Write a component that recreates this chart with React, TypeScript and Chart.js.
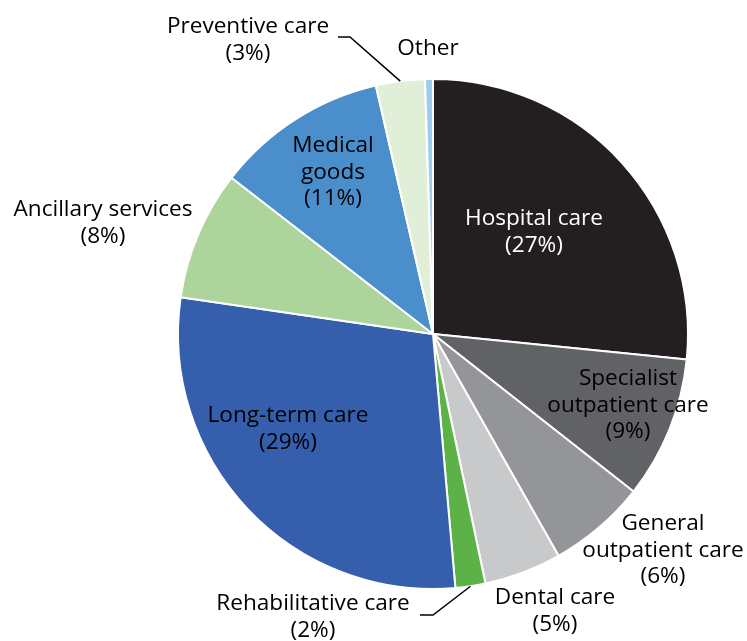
import React, { useEffect, useRef } from "react";
import { Chart, registerables } from "chart.js";

Chart.register(...registerables);

const categories = [
  "Hospital care",
  "Specialist outpatient care",
  "General outpatient care",
  "Dental care",
  "Rehabilitative care",
  "Long-term care",
  "Ancillary services",
  "Medical goods",
  "Preventive care",
  "Other",
];
const values = [26.6, 9.0, 6.2, 4.9, 1.9, 28.7, 8.2, 10.9, 3.1, 0.5];
const percentLabels = ["(27%)", "(9%)", "(6%)", "(5%)", "(2%)", "(29%)", "(8%)", "(11%)", "(3%)", ""];
const labelLines = [
  ["Hospital care"],
  ["Specialist", "outpatient care"],
  ["General", "outpatient care"],
  ["Dental care"],
  ["Rehabilitative care"],
  ["Long-term care"],
  ["Ancillary services"],
  ["Medical", "goods"],
  ["Preventive care"],
  ["Other"],
];
const colors = [
  "#231f20",
  "#616265",
  "#939598",
  "#c8c9cb",
  "#5cb247",
  "#355fac",
  "#acd49b",
  "#4a8ecc",
  "#e1efd9",
  "#9dcdee",
];

// label layout: x center, first baseline, text color, leader line (label-side points)
const labelLayout = [
  { x: 534, y: 225, color: "#ffffff" },
  { x: 628, y: 385, color: "#000000" },
  { x: 663, y: 530, color: "#000000" },
  { x: 555, y: 604, color: "#000000" },
  { x: 313, y: 610, color: "#000000", leader: [[420, 615], [433, 615]] },
  { x: 288, y: 422, color: "#000000" },
  { x: 103, y: 216, color: "#000000" },
  { x: 333, y: 152, color: "#000000" },
  { x: 248, y: 33, color: "#000000", leader: [[338, 37], [350, 37]] },
  { x: 428, y: 55, color: "#000000" },
];

const FONT = '22.6px "Open Sans", "Noto Sans", sans-serif';
const LINE_H = 26.5;

const labelPlugin = {
  id: "sliceLabels",
  afterDraw(chart: any) {
    const ctx = chart.ctx;
    const meta = chart.getDatasetMeta(0);
    ctx.save();
    ctx.font = FONT;
    ctx.textAlign = "center";
    ctx.textBaseline = "alphabetic";
    meta.data.forEach((arc: any, i: number) => {
      const lay = labelLayout[i];
      const lines = [...labelLines[i]];
      if (percentLabels[i]) lines.push(percentLabels[i]);
      ctx.fillStyle = lay.color;
      lines.forEach((t, k) => ctx.fillText(t, lay.x, lay.y + k * LINE_H));
      if (lay.leader) {
        const mid = (arc.startAngle + arc.endAngle) / 2;
        const r = arc.outerRadius;
        const px = arc.x + Math.cos(mid) * r;
        const py = arc.y + Math.sin(mid) * r;
        ctx.strokeStyle = "#000000";
        ctx.lineWidth = 1.5;
        ctx.beginPath();
        ctx.moveTo(lay.leader[0][0], lay.leader[0][1]);
        ctx.lineTo(lay.leader[1][0], lay.leader[1][1]);
        ctx.lineTo(px, py);
        ctx.stroke();
      }
    });
    ctx.restore();
  },
};

export default function App() {
  const ref = useRef<HTMLCanvasElement | null>(null);
  useEffect(() => {
    if (!ref.current) return;
    const chart = new Chart(ref.current, {
      type: "pie",
      data: {
        labels: categories,
        datasets: [
          {
            data: values,
            backgroundColor: colors,
            borderColor: "#ffffff",
            borderWidth: 2,
          },
        ],
      },
      options: {
        responsive: false,
        animation: false,
        layout: { padding: { left: 177, right: 58, top: 78, bottom: 51 } },
        plugins: {
          legend: { display: false },
          tooltip: { enabled: false },
        },
      },
      plugins: [labelPlugin],
    });
    return () => chart.destroy();
  }, []);
  return (
    <div style={{ position: "fixed", left: 0, top: 0, width: 747, height: 641, background: "#fff" }}>
      <canvas ref={ref} width={747} height={641} style={{ width: 747, height: 641 }} />
    </div>
  );
}
